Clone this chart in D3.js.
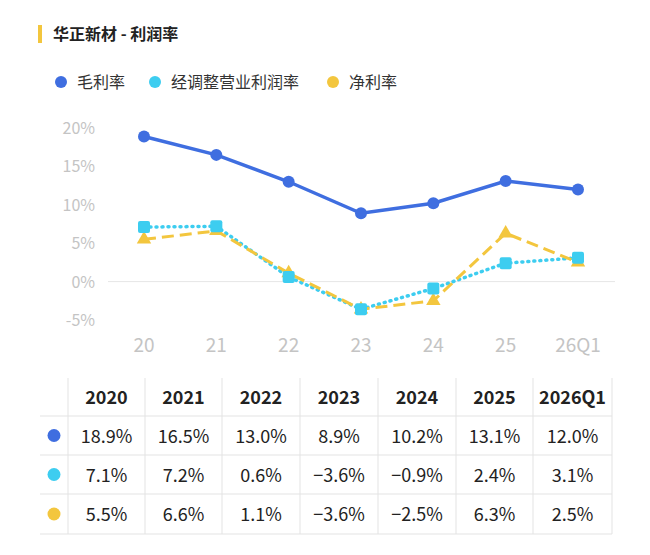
<!DOCTYPE html>
<html><head><meta charset="utf-8">
<script src="https://cdn.jsdelivr.net/npm/d3@7"></script>
<style>body{margin:0;background:#fff;font-family:"Noto Sans CJK SC","Noto Sans",sans-serif;}</style>
</head><body><svg id="svg1" width="650" height="555"></svg>
<script>
var categories = ['20','21','22','23','24','25','26Q1'];
var years = ['2020','2021','2022','2023','2024','2025','2026Q1'];
var grossMargin = [18.9,16.5,13.0,8.9,10.2,13.1,12.0];
var adjOpMargin = [7.1,7.2,0.6,-3.6,-0.9,2.4,3.1];
var netMargin = [5.5,6.6,1.1,-3.6,-2.5,6.3,2.5];
var seriesNames = ['毛利率','经调整营业利润率','净利率'];
var yTicks = [-5,0,5,10,15,20];
var colors = ['#3f6ee0','#3dcdf0','#f3c63e'];

var svg = d3.select('#svg1');

// title
svg.append('rect').attr('x',38).attr('y',25).attr('width',4).attr('height',18).attr('fill','#f3c63e');
svg.append('text').attr('x',53).attr('y',40).attr('font-size',16).attr('font-weight','bold').attr('fill','#222').text('华正新材 - 利润率');

// legend
var legX = [61,155,333];
seriesNames.forEach(function(n,i){
    svg.append('circle').attr('cx',legX[i]).attr('cy',82).attr('r',6).attr('fill',colors[i]);
    svg.append('text').attr('x',legX[i]+16).attr('y',88).attr('font-size',16).attr('fill','#333').text(n);
});

var scaleX = d3.scalePoint().domain(categories).range([144,578]);
var scaleY = d3.scaleLinear().domain([-5,20]).range([320,128]);

svg.append('line').attr('x1',108).attr('x2',615).attr('y1',scaleY(0)).attr('y2',scaleY(0)).attr('stroke','#e6e6e6');

svg.selectAll('.ytick').data(yTicks).enter().append('text')
    .attr('x',95).attr('y',function(d){return scaleY(d)+6;})
    .attr('text-anchor','end').attr('font-size',16).attr('fill','#c4c4c4')
    .text(function(d){return d+'%';});
svg.selectAll('.xtick').data(categories).enter().append('text')
    .attr('x',function(d){return scaleX(d);}).attr('y',352)
    .attr('text-anchor','middle').attr('font-size',19).attr('fill','#c4c4c4')
    .text(function(d){return d;});

var line = d3.line().x(function(d,i){return scaleX(categories[i]);}).y(function(d){return scaleY(d);});

svg.append('path').attr('d',line(grossMargin)).attr('fill','none').attr('stroke',colors[0]).attr('stroke-width',3.5);
svg.append('path').attr('d',line(adjOpMargin)).attr('fill','none').attr('stroke',colors[1]).attr('stroke-width',3.5).attr('stroke-dasharray','1 5').attr('stroke-linecap','round');
svg.append('path').attr('d',line(netMargin)).attr('fill','none').attr('stroke',colors[2]).attr('stroke-width',3).attr('stroke-dasharray','12 6');

svg.selectAll('.p1').data(grossMargin).enter().append('circle')
    .attr('cx',function(d,i){return scaleX(categories[i]);}).attr('cy',function(d){return scaleY(d);})
    .attr('r',6).attr('fill',colors[0]);
svg.selectAll('.p3').data(netMargin).enter().append('path')
    .attr('d',d3.symbol().type(d3.symbolTriangle).size(90))
    .attr('transform',function(d,i){return 'translate('+scaleX(categories[i])+','+scaleY(d)+')';})
    .attr('fill',colors[2]);
svg.selectAll('.p2').data(adjOpMargin).enter().append('rect')
    .attr('x',function(d,i){return scaleX(categories[i])-6;}).attr('y',function(d){return scaleY(d)-6;})
    .attr('width',12).attr('height',12).attr('rx',2).attr('fill',colors[1]);

// table
var colEdges = [40,68,145,222,300,378,456,533,612];
var rowEdges = [378,416,455,494,534];
var grid = '#e3e3e3';
rowEdges.forEach(function(y,i){
    if(i>0) svg.append('line').attr('x1',40).attr('x2',612).attr('y1',y).attr('y2',y).attr('stroke',grid);
});
colEdges.forEach(function(x,i){
    if(i>0 && i<colEdges.length-1) svg.append('line').attr('x1',x).attr('x2',x).attr('y1',rowEdges[0]).attr('y2',rowEdges[4]).attr('stroke',grid);
});
svg.append('line').attr('x1',612).attr('x2',612).attr('y1',rowEdges[0]).attr('y2',rowEdges[4]).attr('stroke',grid);
function cx(i){return (colEdges[i+1]+colEdges[i+2])/2;}
years.forEach(function(y,i){
    svg.append('text').attr('x',cx(i)).attr('y',404).attr('text-anchor','middle').attr('font-size',18).attr('font-weight','bold').attr('fill','#222').text(y);
});
[grossMargin,adjOpMargin,netMargin].forEach(function(arr,r){
    var yc = (rowEdges[r+1]+rowEdges[r+2])/2;
    svg.append('circle').attr('cx',54).attr('cy',yc).attr('r',6.5).attr('fill',colors[r]);
    arr.forEach(function(v,i){
        svg.append('text').attr('x',cx(i)).attr('y',yc+7).attr('text-anchor','middle').attr('font-size',18).attr('fill','#222')
            .text((v<0?'\u2212':'')+Math.abs(v).toFixed(1)+'%');
    });
});
</script></body></html>
